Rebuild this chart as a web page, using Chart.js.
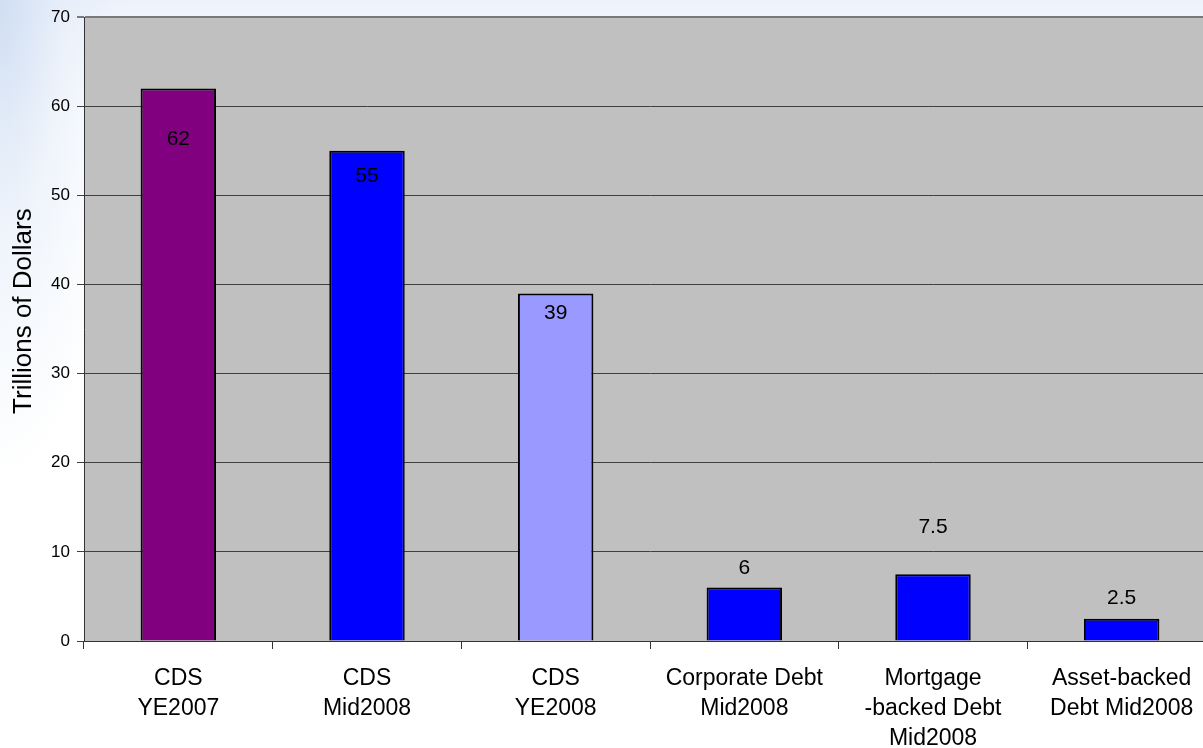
<!doctype html>
<html lang="en">
<head>
    <meta charset="utf-8">
    <title>Chart</title>
    <script src="https://cdn.jsdelivr.net/npm/chart.js@4.4.1/dist/chart.umd.min.js"></script>
    <style>
      html, body { margin: 0; padding: 0; overflow: hidden; }
      body {
        width: 1203px; height: 748px;
        background:
          radial-gradient(ellipse 130px 480px at 0 0, rgba(205,220,242,0.9) 0%, rgba(225,235,248,0.5) 50%, rgba(255,255,255,0) 100%),
          linear-gradient(to bottom, #edf2fc 0px, #f6f8fd 40px, #ffffff 120px);
      }
      #chartContainer { width: 1230px; height: 748px; }
    </style>
    <script type="text/javascript">
      // chart values
      const categories = [
        ['CDS', 'YE2007'],
        ['CDS', 'Mid2008'],
        ['CDS', 'YE2008'],
        ['Corporate Debt', 'Mid2008'],
        ['Mortgage', '-backed Debt', 'Mid2008'],
        ['Asset-backed', 'Debt Mid2008']
      ];
      const values = [62, 55, 39, 6, 7.5, 2.5];
      const valueLabels = ['62', '55', '39', '6', '7.5', '2.5'];
      const barColors = ['#800080', '#0000ff', '#9999ff', '#0000ff', '#0000ff', '#0000ff'];
      // label offset from the bar top, px (positive = below the top)
      const labelShift = [51, 25, 20, -19, -47, -21];
      const yTitle = 'Trillions of Dollars';

      const plotBg = {
        id: 'plotBg',
        beforeDraw(chart) {
          const a = chart.chartArea;
          const c = chart.ctx;
          c.save();
          c.fillStyle = '#c0c0c0';
          c.fillRect(a.left, a.top, a.right - a.left, a.bottom - a.top);
          c.restore();
        }
      };

      const valueText = {
        id: 'valueText',
        afterDatasetsDraw(chart) {
          const c = chart.ctx;
          const meta = chart.getDatasetMeta(0);
          c.save();
          c.font = '21px "Liberation Sans", Arial, sans-serif';
          c.fillStyle = '#000';
          c.textAlign = 'center';
          c.textBaseline = 'middle';
          meta.data.forEach((bar, i) => {
            c.fillText(valueLabels[i], bar.x, bar.y + labelShift[i]);
          });
          c.restore();
        }
      };

      const axisTitle = {
        id: 'axisTitle',
        afterDraw(chart) {
          const c = chart.ctx;
          const a = chart.chartArea;
          c.save();
          c.translate(24, (a.top + a.bottom) / 2 - 18);
          c.rotate(-Math.PI / 2);
          c.font = '26px "Liberation Sans", Arial, sans-serif';
          c.fillStyle = '#000';
          c.textAlign = 'center';
          c.textBaseline = 'middle';
          c.fillText(yTitle, 0, 0);
          c.restore();
        }
      };

      const init = () => {
        const ctx = document.getElementById('myChart');
        new Chart(ctx, {
          type: 'bar',
          data: {
            labels: categories,
            datasets: [{
              data: values,
              backgroundColor: barColors,
              borderColor: '#000',
              borderWidth: 2,
              barPercentage: 0.4,
              categoryPercentage: 1.0
            }]
          },
          options: {
            responsive: true,
            maintainAspectRatio: false,
            animation: false,
            layout: { padding: { top: 17, right: 14, left: 0, bottom: 0 } },
            plugins: {
              legend: { display: false },
              tooltip: { enabled: false }
            },
            scales: {
              x: {
                afterFit: (s) => { s.height = 107; },
                grid: {
                  drawOnChartArea: false,
                  drawTicks: true,
                  tickLength: 8,
                  color: '#333',
                  offset: true
                },
                border: { color: '#333', width: 1 },
                ticks: {
                  color: '#000',
                  padding: 15,
                  maxRotation: 0,
                  autoSkip: false,
                  font: { family: '"Liberation Sans", Arial, sans-serif', size: 23, lineHeight: 1.3 }
                }
              },
              y: {
                min: 0,
                max: 70,
                afterFit: (s) => { s.width = 84; },
                grid: {
                  color: (c) => c.tick && c.tick.value === 70 ? '#7a7a7a' : '#404040',
                  lineWidth: (c) => c.tick && c.tick.value === 70 ? 2 : 1,
                  tickLength: 7
                },
                border: { color: '#333', width: 1 },
                ticks: {
                  stepSize: 10,
                  color: '#000',
                  padding: 7,
                  font: { family: '"Liberation Sans", Arial, sans-serif', size: 17 }
                }
              }
            }
          },
          plugins: [plotBg, valueText, axisTitle]
        });
      };

      window.onload = init;
    </script>
</head>
<body>
    <div id="chartContainer">
        <canvas id="myChart"></canvas>
    </div>
</body>
</html>
